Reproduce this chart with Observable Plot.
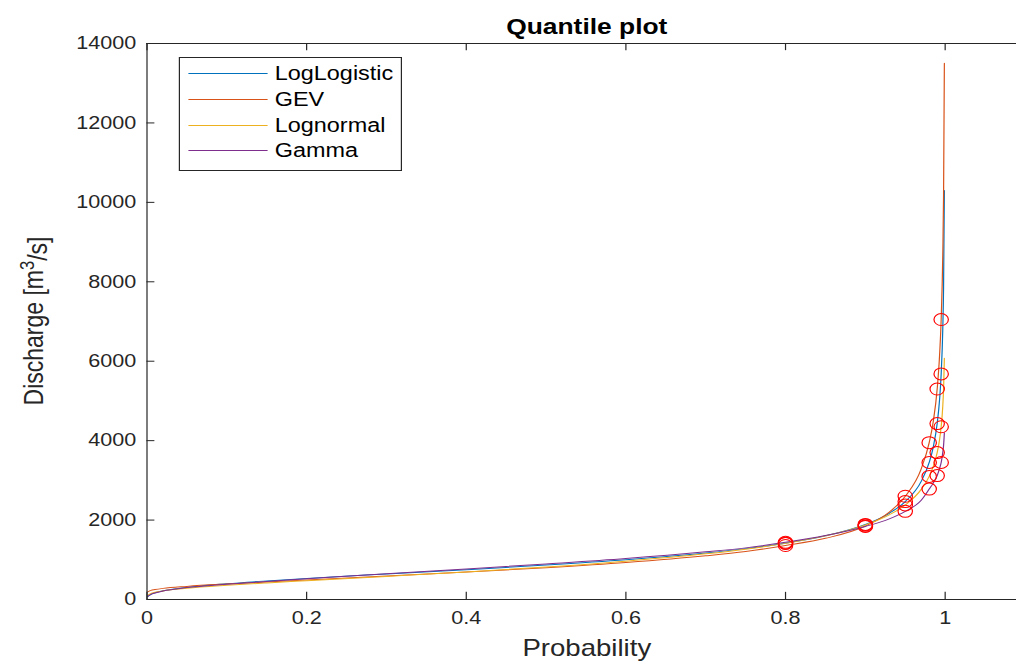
<!DOCTYPE html>
<html><head><meta charset="utf-8">
<script src="https://cdn.jsdelivr.net/npm/d3@7"></script>
<script src="https://cdn.jsdelivr.net/npm/@observablehq/plot@0.6"></script>
<style>
body{margin:0;background:#fff;overflow:hidden;}
#wrap{position:relative;width:847px;height:668px;transform:scaleX(1.2);transform-origin:0 0;font-family:"Liberation Sans",Arial,sans-serif;}
#legend{position:absolute;left:149px;top:57px;width:186px;height:114px;box-sizing:border-box;border:1px solid #262626;background:#fff;}
.row{position:absolute;left:0;height:26px;display:flex;align-items:center;font-size:19.5px;color:#000;white-space:nowrap;}
.swatch{display:inline-block;width:66px;margin-left:7px;margin-right:6px;border-top:1px solid;}
</style></head>
<body><div id="wrap"><div id="chart"></div><div id="legend"></div></div>
<script>
const title = "Quantile plot";
const xLabel = "Probability";
const yLabelParts = ["Discharge [m", "3", "/s]"];
const xTicks = [0, 0.2, 0.4, 0.6, 0.8, 1];
const xTickLabels = ["0", "0.2", "0.4", "0.6", "0.8", "1"];
const yTicks = [0, 2000, 4000, 6000, 8000, 10000, 12000, 14000];
const yTickLabels = ["0", "2000", "4000", "6000", "8000", "10000", "12000", "14000"];

const seriesNames = ["LogLogistic", "GEV", "Lognormal", "Gamma"];
const seriesColors = ["#0072BD", "#D95319", "#EDB120", "#7E2F8E"];

const prob = [0.001, 0.005, 0.01, 0.02, 0.05, 0.1, 0.15, 0.2, 0.3, 0.4, 0.5, 0.6, 0.7, 0.75, 0.8, 0.85, 0.9, 0.93, 0.95, 0.97, 0.98, 0.985, 0.99, 0.993, 0.995, 0.997, 0.998, 0.999];
const logLogistic = [75, 132, 170, 218, 305, 397, 468, 530, 642, 751, 867, 1001, 1171, 1281, 1418, 1605, 1890, 2171, 2466, 2974, 3450, 3832, 4430, 5037, 5680, 6806, 7864, 10300];
const gev = [190, 230, 250, 280, 330, 390, 440, 490, 590, 690, 800, 930, 1100, 1210, 1360, 1540, 1850, 2200, 2600, 3290, 3950, 4470, 5300, 6150, 7050, 8660, 10180, 13500];
const lognormal = [110, 154, 181, 216, 281, 356, 418, 474, 582, 694, 818, 964, 1149, 1267, 1413, 1602, 1879, 2132, 2380, 2773, 3100, 3344, 3700, 4030, 4350, 4866, 5295, 6075];
const gamma = [80, 130, 165, 215, 300, 385, 455, 520, 650, 770, 895, 1030, 1200, 1300, 1440, 1610, 1840, 2030, 2220, 2500, 2780, 2930, 3120, 3300, 3450, 3700, 3880, 4200];

const markerProb = [0.8, 0.9, 0.95, 0.98, 0.99, 0.995];
const markerLogLogistic = [1418, 1890, 2466, 3450, 4430, 5680];
const markerGev = [1360, 1850, 2600, 3950, 5300, 7050];
const markerLognormal = [1413, 1879, 2380, 3100, 3700, 4350];
const markerGamma = [1440, 1840, 2220, 2780, 3120, 3450];

const seriesValues = [logLogistic, gev, lognormal, gamma];
const markerValues = [markerLogLogistic, markerGev, markerLognormal, markerGamma];

const lineData = seriesNames.flatMap((name, i) => prob.map((p, j) => ({series: name, p, q: seriesValues[i][j]})));
const markerData = seriesNames.flatMap((name, i) => markerProb.map((p, j) => ({series: name, p, q: markerValues[i][j]})));

const axisColor = "#262626";
const W = 847, H = 668;

const chart = Plot.plot({
  width: W, height: H,
  marginLeft: 122, marginRight: 0, marginTop: 43, marginBottom: 69,
  style: {fontFamily: "'Liberation Sans', Arial, sans-serif", fontSize: "18px", color: axisColor, background: "#fff"},
  x: {domain: [0, 1.09], label: null},
  y: {domain: [0, 14000], label: null},
  color: {domain: seriesNames, range: seriesColors},
  marks: [
    ...seriesNames.map((name) => Plot.line(lineData.filter(d => d.series === name), {x: "p", y: "q", stroke: "series", strokeWidth: 1, curve: "monotone-x"})),
    Plot.dot(markerData, {x: "p", y: "q", r: 6, stroke: "#ff0000", strokeWidth: 1, fill: "none"}),
    Plot.ruleX([0], {y1: 0, y2: 14000, stroke: axisColor}),
    Plot.ruleY([0, 14000], {stroke: axisColor}),
    Plot.ruleX(xTicks, {y1: 0, y2: 180, stroke: axisColor}),
    Plot.ruleX(xTicks, {y1: 14000, y2: 13820, stroke: axisColor}),
    Plot.ruleY(yTicks, {x1: 0, x2: 0.01, stroke: axisColor}),
    Plot.axisX({ticks: xTicks, tickSize: 0, tickPadding: 12, tickFormat: (d) => xTickLabels[xTicks.indexOf(d)], fontSize: 18, fill: axisColor}),
    Plot.axisY({ticks: yTicks, tickSize: 0, tickPadding: 9, tickFormat: (d) => yTickLabels[yTicks.indexOf(d)], fontSize: 18, fill: axisColor}),
    Plot.text([title], {frameAnchor: "top", dy: -25, dx: 4, fontWeight: "bold", fontSize: 22, fill: "#000"}),
    Plot.text([xLabel], {frameAnchor: "bottom", dy: 56, dx: 4, fontSize: 23, fill: axisColor})
  ]
});
document.getElementById("chart").appendChild(chart);

// y label with superscript
const svg = d3.select(chart);
const yl = svg.append("text")
  .attr("transform", "translate(36,321) rotate(-90)")
  .attr("text-anchor", "middle")
  .attr("font-size", 23)
  .attr("fill", axisColor)
  .attr("font-family", "'Liberation Sans', Arial, sans-serif");
yl.append("tspan").text(yLabelParts[0]);
yl.append("tspan").attr("dy", "-0.45em").attr("font-size", "0.72em").text(yLabelParts[1]);
yl.append("tspan").attr("dy", "0.45em").text(yLabelParts[2]);

// legend
const legend = document.getElementById("legend");
const rowCenters = [73, 99, 125, 150];
seriesNames.forEach((name, i) => {
  const row = document.createElement("div");
  row.className = "row";
  row.style.top = (rowCenters[i] - 58 - 13) + "px";
  const sw = document.createElement("span");
  sw.className = "swatch";
  sw.style.borderTopColor = seriesColors[i];
  const tx = document.createElement("span");
  tx.textContent = name;
  row.appendChild(sw); row.appendChild(tx);
  legend.appendChild(row);
});
</script></body></html>
